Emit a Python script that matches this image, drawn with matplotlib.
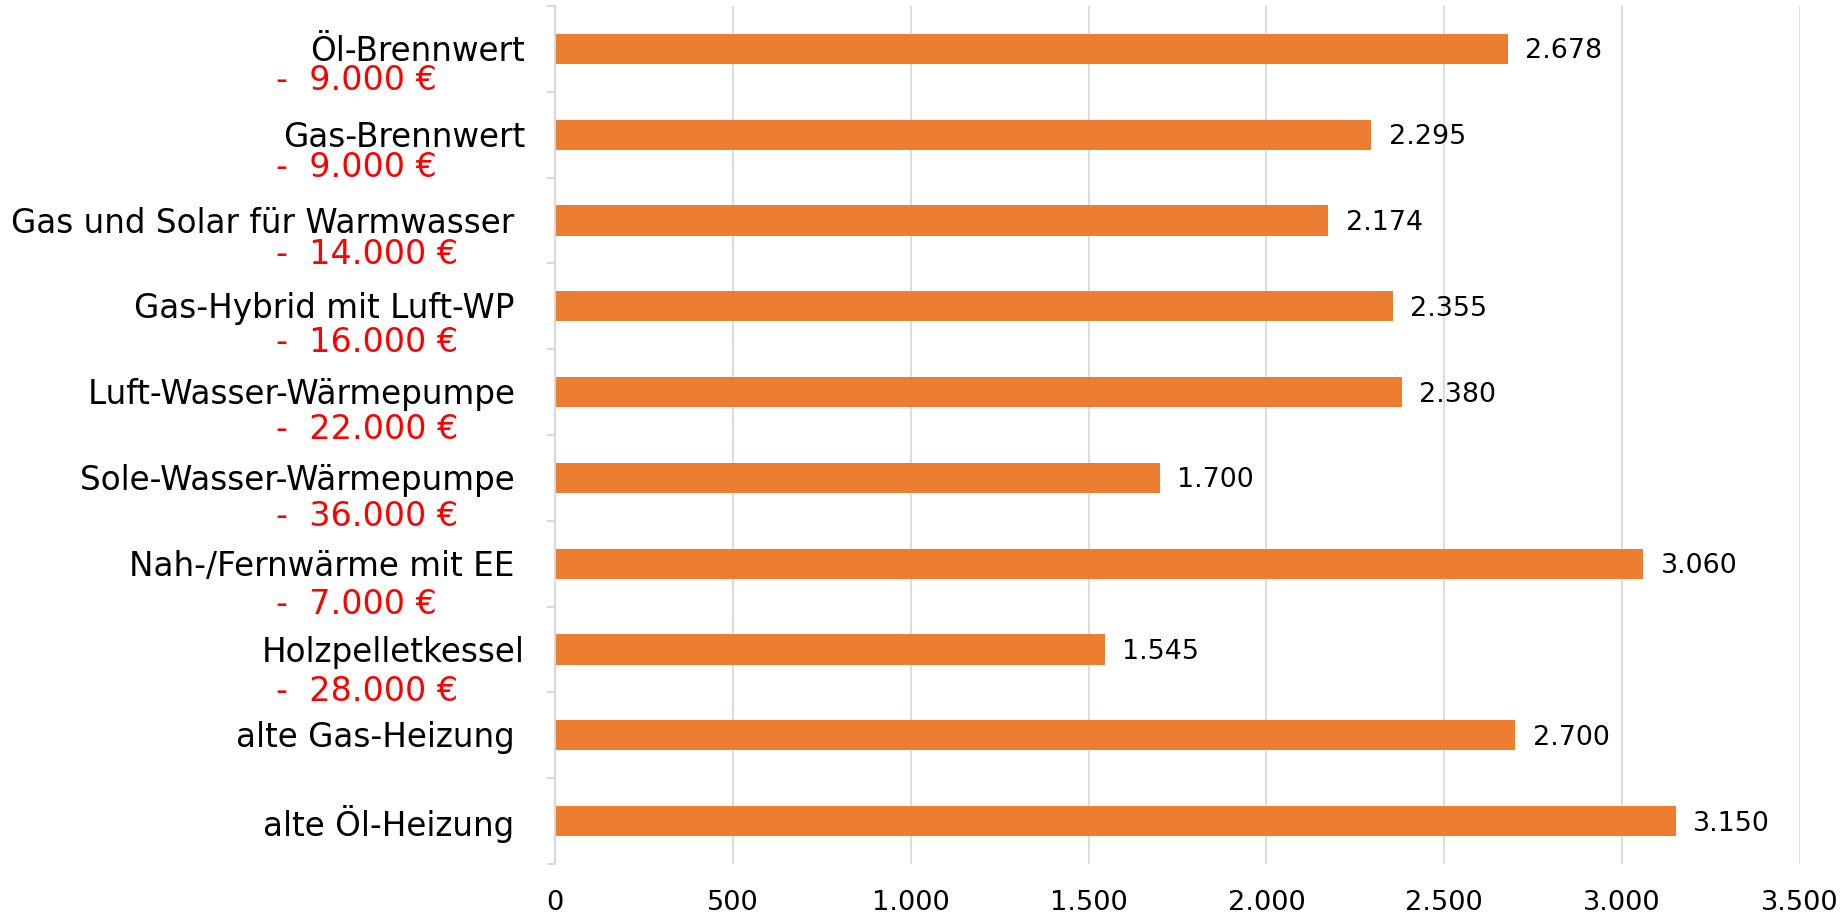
import numpy as np
import matplotlib
matplotlib.use("Agg")
import matplotlib.pyplot as plt
from matplotlib.transforms import blended_transform_factory

# Daten (von oben nach unten)
categories = [
    "Öl-Brennwert",
    "Gas-Brennwert",
    "Gas und Solar für Warmwasser ",
    "Gas-Hybrid mit Luft-WP ",
    "Luft-Wasser-Wärmepumpe ",
    "Sole-Wasser-Wärmepumpe ",
    "Nah-/Fernwärme mit EE ",
    "Holzpelletkessel",
    "alte Gas-Heizung ",
    "alte Öl-Heizung ",
]
values = [2678, 2295, 2174, 2355, 2380, 1700, 3060, 1545, 2700, 3150]
costs = ["9.000 €", "9.000 €", "14.000 €", "16.000 €", "22.000 €",
         "36.000 €", "7.000 €", "28.000 €", None, None]
xticks = [0, 500, 1000, 1500, 2000, 2500, 3000, 3500]

BAR = "#ED7D31"
GRID = "#d9d9d9"

plt.rcParams['font.family'] = ['DejaVu Sans']


def de_fmt(v):
    return f"{v:,.0f}".replace(",", ".")


fig = plt.figure(figsize=(18.42, 9.13), dpi=100)
W, H = 1842, 913
ax = fig.add_axes([555 / W, 1 - 864 / H, (1800 - 555) / W, (864 - 6) / H])

n = len(categories)
y = np.arange(n)
ax.barh(y, values, height=0.35, color=BAR, zorder=3)
ax.set_ylim(n - 0.5, -0.5)
ax.set_xlim(0, 3500)

# Gitter und Achsen
ax.set_xticks(xticks)
ax.set_xticklabels([de_fmt(t) for t in xticks], fontsize=19.6)
ax.tick_params(axis='x', length=0, pad=19)
ax.grid(axis='x', color=GRID, linewidth=1.3, zorder=0)
for s in ["top", "right", "bottom"]:
    ax.spines[s].set_visible(False)
ax.spines["left"].set_color(GRID)
ax.spines["left"].set_linewidth(1.5)
ax.spines["left"].set_zorder(4)
ax.set_yticks([])
ax.set_yticks(np.arange(n + 1) - 0.5, minor=True)
ax.tick_params(axis='y', which='minor', length=6, width=1.5, color=GRID, direction='out')

# Beschriftungen links
tr = blended_transform_factory(ax.transAxes, ax.transData)
xlab = (525 - 555) / 1245
xred = (276 - 555) / 1245
for i, (cat, cost) in enumerate(zip(categories, costs)):
    ax.text(xlab, i + 0.03, cat, transform=tr, ha='right', va='center', fontsize=23.5)
    if cost is not None:
        ax.text(xred, i + 0.363 + 0.0178 * i, "-  " + cost, transform=tr,
                ha='left', va='center', fontsize=24, color='red')

# Werte an den Balken
for i, v in enumerate(values):
    ax.annotate(de_fmt(v), (v, i + 0.03), xytext=(12.5, 0), textcoords='offset points',
                ha='left', va='center', fontsize=19.4)

fig.savefig("out.png", dpi=100)
